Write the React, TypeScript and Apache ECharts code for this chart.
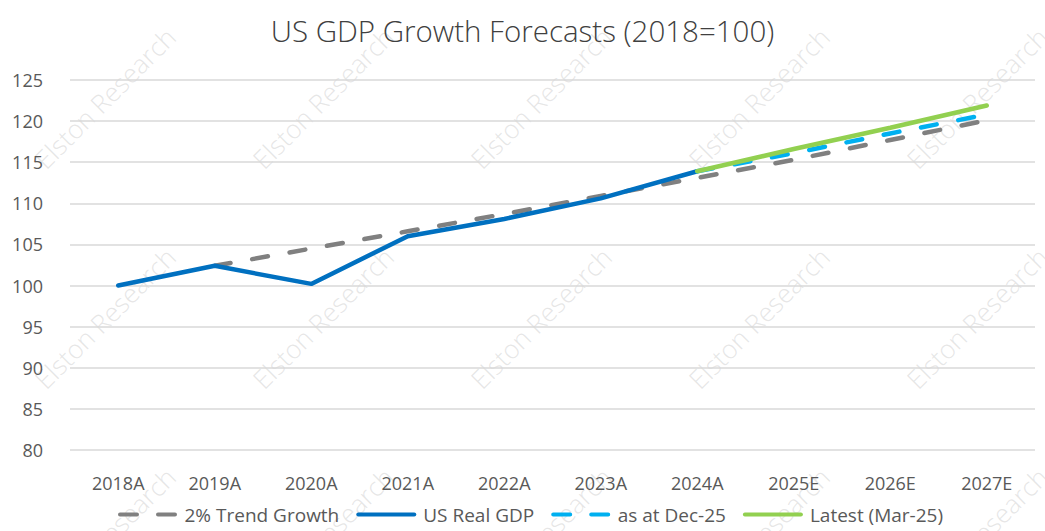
import React, { useEffect, useRef } from "react";
import * as echarts from "echarts";

const categories = ["2018A", "2019A", "2020A", "2021A", "2022A", "2023A", "2024A", "2025E", "2026E", "2027E"];
const trendGrowth = [null, 102.4, 104.5, 106.6, 108.7, 110.9, 113.1, 115.3, 117.7, 120.1];
const usRealGdp = [100, 102.4, 100.2, 106.0, 108.1, 110.6, 113.9, null, null, null];
const asAtDec25 = [null, null, null, null, null, null, 113.9, 116.1, 118.5, 120.8];
const latestMar25 = [null, null, null, null, null, null, 113.9, 116.6, 119.2, 121.9];
const yTicks = { min: 80, max: 125, interval: 5 };

const FONT = "'Open Sans', 'Noto Sans', sans-serif";
const DASH_ICON = "path://M2,0h17a2,2 0 0 1 0,4h-17a2,2 0 0 1 0,-4z M40,0h17a2,2 0 0 1 0,4h-17a2,2 0 0 1 0,-4z";
const SOLID_ICON = "path://M2,0h56a2,2 0 0 1 0,4h-56a2,2 0 0 1 0,-4z";

export default function App() {
  const ref = useRef<HTMLDivElement>(null);
  useEffect(() => {
    if (!ref.current) return;
    const chart = echarts.init(ref.current, undefined, { renderer: "svg" });
    const wm: any[] = [];
    const cols = [105, 323, 541, 759, 977];
    const rows = [98, 318, 538];
    rows.forEach((y) =>
      cols.forEach((x) =>
        wm.push({
          type: "text",
          x,
          y,
          rotation: Math.PI / 4,
          z: 0,
          silent: true,
          style: {
            text: "Elston Research",
            fontFamily: FONT,
            fontSize: 26,
            fontWeight: 300,
            fill: "rgba(195,195,195,0.42)",
            align: "center",
            verticalAlign: "middle",
          },
        })
      )
    );
    const legendText = { fontFamily: FONT, fontSize: 19, color: "#595959", padding: [0, 0, 0, 2] };
    chart.setOption({
      animation: false,
      backgroundColor: "#ffffff",
      title: {
        text: "US GDP Growth Forecasts (2018=100)",
        left: "center",
        top: 10,
        textStyle: { fontFamily: FONT, fontSize: 29.5, fontWeight: 300, color: "#404040" },
      },
      graphic: wm,
      grid: { left: 70, right: 10, top: 80, bottom: 81 },
      legend: {
        bottom: 2,
        left: 113,
        itemWidth: 60,
        itemHeight: 4,
        itemGap: 17,
        textStyle: legendText,
        data: [
          { name: "2% Trend Growth", icon: DASH_ICON },
          { name: "US Real GDP", icon: SOLID_ICON },
          { name: "as at Dec-25", icon: DASH_ICON },
          { name: "Latest (Mar-25)", icon: SOLID_ICON },
        ],
      },
      xAxis: {
        type: "category",
        data: categories,
        boundaryGap: true,
        axisLine: { show: false },
        axisTick: { show: false },
        axisLabel: { fontFamily: FONT, fontSize: 18, color: "#595959", margin: 24 },
      },
      yAxis: {
        type: "value",
        min: yTicks.min,
        max: yTicks.max,
        interval: yTicks.interval,
        axisLine: { show: false },
        axisTick: { show: false },
        axisLabel: { fontFamily: FONT, fontSize: 18, color: "#595959", margin: 27 },
        splitLine: { lineStyle: { color: "#d9d9d9", width: 1.5 } },
      },
      series: [
        {
          name: "2% Trend Growth",
          type: "line",
          data: trendGrowth,
          symbol: "none",
          color: "#808080",
          lineStyle: { color: "#808080", width: 4.5, type: [16, 22], cap: "round" },
          z: 2,
        },
        {
          name: "US Real GDP",
          type: "line",
          data: usRealGdp,
          symbol: "none",
          color: "#0070C0",
          lineStyle: { color: "#0070C0", width: 4.5, cap: "round" },
          z: 3,
        },
        {
          name: "as at Dec-25",
          type: "line",
          data: asAtDec25,
          symbol: "none",
          color: "#00B0F0",
          lineStyle: { color: "#00B0F0", width: 4.5, type: [16, 22], cap: "round" },
          z: 4,
        },
        {
          name: "Latest (Mar-25)",
          type: "line",
          data: latestMar25,
          symbol: "none",
          color: "#92D050",
          lineStyle: { color: "#92D050", width: 4.5, cap: "round" },
          z: 5,
        },
      ],
    });
    return () => chart.dispose();
  }, []);
  return (
    <div
      ref={ref}
      style={{ position: "absolute", left: 0, top: 0, width: 1045, height: 531 }}
    />
  );
}
